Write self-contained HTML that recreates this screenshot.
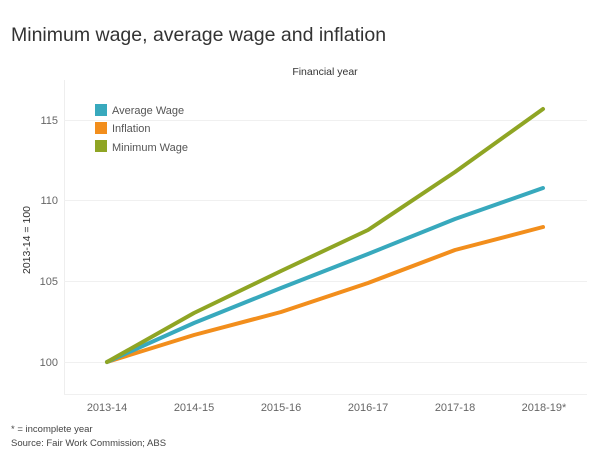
<!DOCTYPE html>
<html><head><meta charset="utf-8"><style>
body{margin:0;background:#fff;width:600px;height:461px;overflow:hidden;font-family:"Liberation Sans",sans-serif}
</style></head><body>
<svg width="600" height="461" xmlns="http://www.w3.org/2000/svg" font-family="Liberation Sans, sans-serif">
<text x="11" y="41" font-size="19.5" fill="#333">Minimum wage, average wage and inflation</text>
<text x="325" y="75" font-size="10.5" fill="#333" text-anchor="middle">Financial year</text>
<line x1="64.5" y1="80" x2="64.5" y2="394" stroke="#eee"/>
<line x1="64" y1="394.5" x2="587" y2="394.5" stroke="#f0f0f0"/>
<g stroke="#f0f0f0"><line x1="64" y1="120.5" x2="587" y2="120.5"/><line x1="64" y1="200.5" x2="587" y2="200.5"/><line x1="64" y1="281.5" x2="587" y2="281.5"/><line x1="64" y1="362.5" x2="587" y2="362.5"/></g>
<g font-size="11" fill="#666" text-anchor="end"><text x="58" y="124">115</text><text x="58" y="204">110</text><text x="58" y="285">105</text><text x="58" y="366">100</text></g>
<text transform="translate(30,240) rotate(-90)" font-size="10.5" fill="#333" text-anchor="middle">2013-14 = 100</text>
<g font-size="11" fill="#666" text-anchor="middle"><text x="107" y="411">2013-14</text><text x="194" y="411">2014-15</text><text x="281" y="411">2015-16</text><text x="368" y="411">2016-17</text><text x="455" y="411">2017-18</text><text x="544" y="411">2018-19*</text></g>
<g fill="none" stroke-width="4" stroke-linejoin="round" stroke-linecap="round">
<polyline stroke="#f28e1c" points="107,362 194,335 281,312 368,283 455,250 543,227"/>
<polyline stroke="#38a9bd" points="107,362 194,323 281,288 368,254 455,219 543,188"/>
<polyline stroke="#8fa524" points="107,362 194,313 281,271 368,230 455,172 543,109"/>
</g>
<rect x="95" y="104" width="12" height="12" fill="#38a9bd"/>
<rect x="95" y="122" width="12" height="12" fill="#f28e1c"/>
<rect x="95" y="140" width="12" height="12" fill="#8fa524"/>
<g font-size="11" fill="#555"><text x="112" y="114">Average Wage</text><text x="112" y="132">Inflation</text><text x="112" y="151">Minimum Wage</text></g>
<g font-size="9.5" fill="#444"><text x="11" y="432">* = incomplete year</text><text x="11" y="446">Source: Fair Work Commission; ABS</text></g>
</svg>
</body></html>
